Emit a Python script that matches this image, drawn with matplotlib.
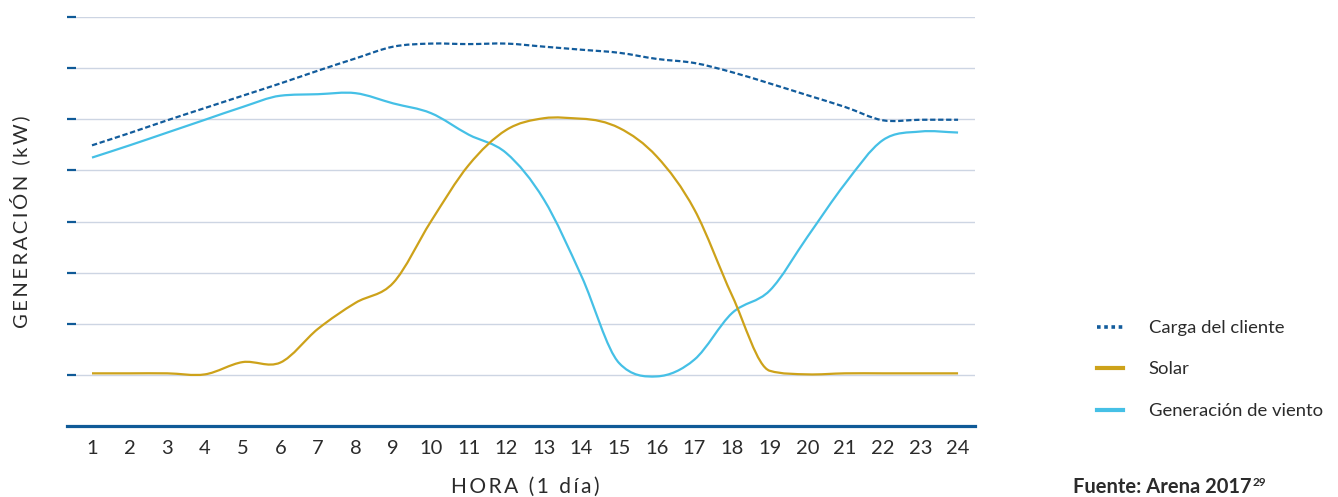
import numpy as np
import matplotlib
matplotlib.use("Agg")
import matplotlib.pyplot as plt
from matplotlib.path import Path
from matplotlib.patches import PathPatch
from matplotlib.lines import Line2D

# ---------------- data ----------------
hours = list(range(1, 25))
hour_labels = [str(h) for h in hours]
load = [5.49, 5.73, 5.98, 6.22, 6.46, 6.70, 6.95, 7.19, 7.42, 7.48, 7.47, 7.48,
        7.42, 7.36, 7.30, 7.18, 7.10, 6.92, 6.70, 6.47, 6.24, 5.98, 5.99, 5.99]
solar = [1.03, 1.03, 1.03, 1.01, 1.25, 1.24, 1.90, 2.41, 2.80, 4.00, 5.10, 5.79,
         6.02, 6.01, 5.83, 5.27, 4.23, 2.55, 1.08, 1.01, 1.03, 1.03, 1.03, 1.03]
wind = [5.25, 5.49, 5.74, 5.99, 6.24, 6.46, 6.49, 6.51, 6.31, 6.12, 5.70, 5.34,
        4.43, 2.93, 1.23, 0.97, 1.30, 2.21, 2.65, 3.70, 4.74, 5.59, 5.76, 5.74]
series_names = ["Carga del cliente", "Solar", "Generación de viento"]
y_ticks = [1, 2, 3, 4, 5, 6, 7, 8]

# ---------------- style ----------------
C_LOAD = "#125c9c"
C_SOLAR = "#cda21a"
C_WIND = "#45c0e6"
C_AXIS = "#0f5a97"
C_GRID = "#cdd5e3"
C_TEXT = "#2b2b2b"
FONT = ["Lato", "DejaVu Sans"]
plt.rcParams["font.family"] = FONT


def smooth_path(x, y):
    """Cubic Bezier path through the data points (Catmull-Rom tangents,
    limited where the curve is monotone to avoid overshoot)."""
    x = np.asarray(x, float)
    y = np.asarray(y, float)
    d = np.diff(y) / np.diff(x)
    n = len(x)
    m = np.zeros(n)
    m[0], m[-1] = d[0], d[-1]
    for k in range(1, n - 1):
        m[k] = (d[k - 1] + d[k]) / 2.0
        if d[k - 1] * d[k] > 0:
            lim = 3.0 * min(abs(d[k - 1]), abs(d[k]))
            m[k] = np.sign(m[k]) * min(abs(m[k]), lim)
    verts = [(x[0], y[0])]
    codes = [Path.MOVETO]
    for k in range(n - 1):
        h = x[k + 1] - x[k]
        verts += [(x[k] + h / 3, y[k] + m[k] * h / 3),
                  (x[k + 1] - h / 3, y[k + 1] - m[k + 1] * h / 3),
                  (x[k + 1], y[k + 1])]
        codes += [Path.CURVE4] * 3
    return Path(verts, codes)


def spaced(s, sep="\u2009"):
    return sep.join(s)


fig = plt.figure(figsize=(13.38, 4.97), dpi=100)
W, H = 1338, 497
ax = fig.add_axes([76 / W, 1 - 426 / H, (975 - 76) / W, (426 - 17) / H])

ax.set_xlim(0.575, 24.45)
ax.set_ylim(0, 8)

ax.add_patch(PathPatch(smooth_path(hours, wind), fill=False, edgecolor=C_WIND,
                       lw=1.6, zorder=3))
ax.add_patch(PathPatch(smooth_path(hours, solar), fill=False, edgecolor=C_SOLAR,
                       lw=1.6, zorder=3))
ax.add_patch(PathPatch(smooth_path(hours, load), fill=False, edgecolor=C_LOAD,
                       lw=1.6, linestyle=(0, (2.4, 1.2)), zorder=4))

for s in ax.spines.values():
    s.set_visible(False)
ax.axhline(0, xmin=-9 / 899, xmax=1, color=C_AXIS, lw=2.3, clip_on=False, zorder=5)

ax.set_yticks(y_ticks)
ax.set_yticklabels([])
ax.tick_params(axis="y", length=6.5, width=1.6, color=C_AXIS, direction="out")
ax.yaxis.grid(True, color=C_GRID, lw=1.0)
ax.set_axisbelow(True)

ax.set_xticks(hours)
ax.set_xticklabels(hour_labels)
ax.tick_params(axis="x", length=0, pad=10, labelsize=14.5, labelcolor=C_TEXT)

fig.text(20 / W, 1 - 222 / H, spaced("GENERACIÓN (kW)"), rotation=90,
         ha="center", va="center", fontsize=14.5, color=C_TEXT)
fig.text(525 / W, 1 - 487 / H, spaced("HORA (1 día)", "\u200a\u200a"),
         ha="center", va="center", fontsize=15, color=C_TEXT)

handles = [
    Line2D([], [], color=C_LOAD, lw=2.6, linestyle=(0, (1.0, 1.0))),
    Line2D([], [], color=C_SOLAR, lw=3.0),
    Line2D([], [], color=C_WIND, lw=3.0),
]
fig.legend(handles, series_names, loc="upper left",
           bbox_to_anchor=(1097 / W, 1 - 320 / H), frameon=False,
           fontsize=13.3, handlelength=1.4, handletextpad=1.4,
           labelspacing=1.38, borderpad=0, borderaxespad=0,
           labelcolor=C_TEXT)

src = fig.text(1073 / W, 1 - 487 / H, "Fuente: Arena 2017", ha="left",
               va="center", fontsize=14.5, fontweight="bold", color=C_TEXT)
ax.annotate("29", xy=(1, 1), xycoords=src, xytext=(0.5, 0),
            textcoords="offset points", ha="left", va="top", fontsize=8.5,
            fontweight="bold", color=C_TEXT)

fig.savefig("out.png", dpi=100)
